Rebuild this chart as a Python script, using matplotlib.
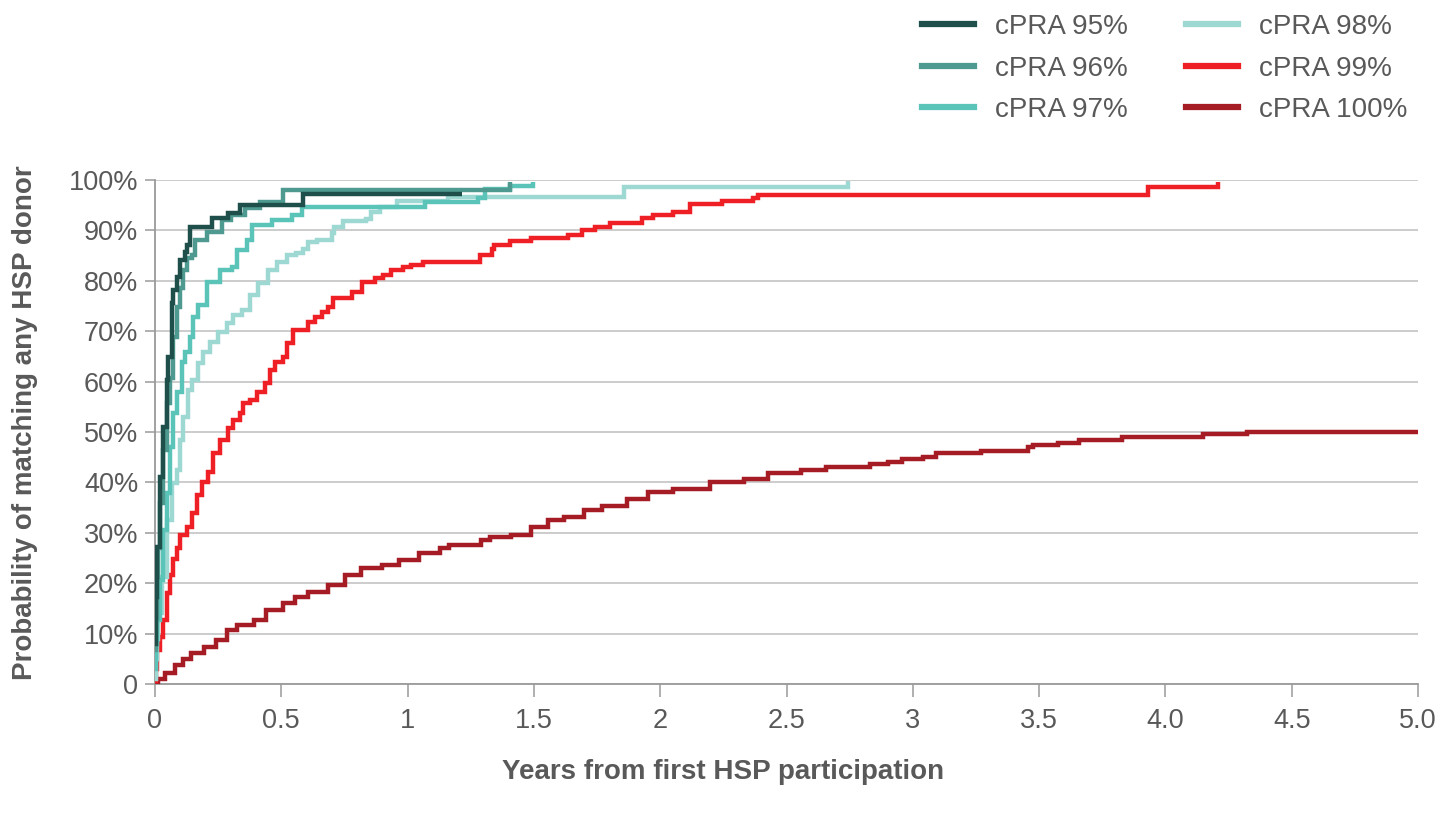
import matplotlib
matplotlib.use("Agg")
import matplotlib.pyplot as plt
from matplotlib.lines import Line2D
from matplotlib.ticker import FixedLocator

# ---------------- data (years, % matched) ----------------
labels = ["cPRA 95%", "cPRA 96%", "cPRA 97%", "cPRA 98%", "cPRA 99%", "cPRA 100%"]
colors = ["#1e4f4b", "#4f9a90", "#5bc4b9", "#9dd8d3", "#ee2026", "#a51c24"]

t95 = [0, 0.004, 0.008, 0.02, 0.033, 0.046, 0.053, 0.066, 0.072, 0.086, 0.099, 0.119,
       0.125, 0.139, 0.224, 0.29, 0.336, 0.587, 1.215]
v95 = [8, 17.3, 27.2, 41.1, 51, 60.3, 64.9, 75.5, 78.2, 80.8, 84.1, 85.8,
       87.1, 90.7, 92.4, 93.4, 95, 97.3, 97.3]

t96 = [0, 0.004, 0.007, 0.012, 0.02, 0.033, 0.046, 0.059, 0.072, 0.086, 0.099, 0.112,
       0.125, 0.145, 0.158, 0.205, 0.264, 0.30, 0.356, 0.416, 0.507, 1.405]
v96 = [6.7, 13, 21.3, 27, 35.9, 46.4, 55.7, 60.7, 68.9, 74.9, 78.5, 82.1,
       84.5, 85.1, 88.1, 89.7, 92.1, 93.0, 94.4, 95.7, 98, 99.6]

t97 = [0, 0.003, 0.007, 0.02, 0.033, 0.046, 0.059, 0.072, 0.086, 0.106, 0.119, 0.139,
       0.152, 0.171, 0.205, 0.257, 0.304, 0.323, 0.363, 0.383, 0.462, 0.541, 0.581,
       1.069, 1.28, 1.306, 1.405, 1.498]
v97 = [3, 8, 12.7, 20.6, 30.6, 37.8, 47.1, 53.7, 58, 63.9, 65.9, 68.9,
       72.9, 75.2, 79.8, 82.1, 82.8, 86.1, 88.1, 91.1, 92.1, 93.1, 94.7,
       95.6, 96.4, 98.2, 98.8, 99.7]

t98 = [0, 0.004, 0.008, 0.013, 0.026, 0.046, 0.066, 0.086, 0.099, 0.112, 0.132, 0.145,
       0.171, 0.191, 0.218, 0.251, 0.284, 0.31, 0.343, 0.376, 0.409, 0.449, 0.482,
       0.521, 0.557, 0.584, 0.605, 0.64, 0.702, 0.709, 0.744, 0.834, 0.855, 0.89,
       0.957, 1.161, 1.857, 2.745]
v98 = [1, 5, 9, 14, 21.3, 32.5, 39.8, 42.5, 48.4, 53, 58.3, 60.3,
       63.6, 65.9, 67.9, 69.9, 71.6, 73.2, 74.2, 77.2, 79.5, 82.1, 83.8,
       85.1, 85.6, 86.4, 87.6, 88.1, 89.4, 90.7, 91.9, 92.2, 93.7, 94.6,
       95.8, 96.7, 98.7, 99.8]

t99 = [0, 0.004, 0.007, 0.02, 0.033, 0.046, 0.059, 0.072, 0.086, 0.099, 0.125, 0.145,
       0.165, 0.185, 0.211, 0.231, 0.257, 0.29, 0.31, 0.336, 0.35, 0.376, 0.403,
       0.435, 0.455, 0.475, 0.508, 0.521, 0.548, 0.607, 0.633, 0.66, 0.686, 0.706,
       0.779, 0.818, 0.869, 0.904, 0.935, 0.98, 1.015, 1.06, 1.287, 1.334, 1.341,
       1.405, 1.49, 1.635, 1.689, 1.742, 1.80, 1.927, 1.973, 2.05, 2.118, 2.246,
       2.367, 2.388, 3.932, 4.208]
v99 = [0.5, 3, 6.7, 9.4, 12.7, 18, 21.6, 24.9, 27, 29.6, 31.2, 33.9,
       37.5, 40.1, 42.1, 45.8, 48.4, 50.7, 52.4, 53.7, 55.7, 56.3, 58,
       59.7, 62.3, 63.9, 64.9, 67.6, 70.2, 71.9, 72.9, 73.9, 74.9, 76.5,
       77.8, 79.8, 80.5, 81.2, 82.1, 82.7, 83.1, 83.8, 85.1, 86.4, 87.1,
       87.8, 88.4, 89.1, 90.1, 90.7, 91.4, 92.4, 93.1, 93.6, 95.3, 95.9,
       96.4, 97.0, 98.6, 99.6]

t100 = [0, 0.01, 0.038, 0.079, 0.11, 0.144, 0.194, 0.243, 0.284, 0.325, 0.39, 0.44,
        0.505, 0.555, 0.604, 0.686, 0.752, 0.817, 0.9, 0.965, 1.047, 1.129, 1.162,
        1.29, 1.326, 1.41, 1.49, 1.556, 1.62, 1.70, 1.77, 1.87, 1.95, 2.05, 2.196,
        2.33, 2.425, 2.557, 2.657, 2.83, 2.9, 2.957, 3.04, 3.09, 3.27, 3.457, 3.474,
        3.574, 3.657, 3.83, 4.149, 4.324, 5.0]
v100 = [0.3, 1, 2.1, 3.8, 5, 6.1, 7.4, 8.7, 10.7, 11.7, 12.7, 14.7,
        16, 17.3, 18.3, 19.6, 21.6, 23, 23.6, 24.6, 25.9, 26.9, 27.6,
        28.6, 29.2, 29.6, 31.2, 32.5, 33.1, 34.5, 35.3, 36.8, 38, 38.6, 40.1,
        40.6, 41.8, 42.5, 43, 43.6, 44.1, 44.6, 45.1, 45.8, 46.3, 47.1, 47.4,
        47.9, 48.4, 49.1, 49.6, 50.0, 50.0]

x_ticks = [0, 0.5, 1, 1.5, 2, 2.5, 3, 3.5, 4, 4.5, 5]
x_tick_labels = ["0", "0.5", "1", "1.5", "2", "2.5", "3", "3.5", "4.0", "4.5", "5.0"]
y_ticks = [0, 10, 20, 30, 40, 50, 60, 70, 80, 90, 100]
y_tick_labels = ["0", "10%", "20%", "30%", "40%", "50%", "60%", "70%", "80%", "90%", "100%"]

series = [(t95, v95), (t96, v96), (t97, v97), (t98, v98), (t99, v99), (t100, v100)]

# ---------------- figure ----------------
plt.rcParams['font.family'] = ['Liberation Sans', 'DejaVu Sans']
txt = "#595959"
axc = "#9a9a9a"

fig = plt.figure(figsize=(14.56, 8.13), dpi=100)
ax = fig.add_axes([155 / 1456, 1 - 684 / 813, (1418 - 155) / 1456, (684 - 180) / 813])

ax.set_xlim(0, 5)
ax.set_ylim(0, 100)

ax.yaxis.set_major_locator(FixedLocator(y_ticks))
ax.grid(axis='y', color="#c8c8c8", linewidth=1.3)
ax.set_axisbelow(True)

draw_order = [5, 4, 3, 2, 1, 0]
for i in draw_order:
    t, v = series[i]
    ax.step(t, v, where='post', color=colors[i], linewidth=3.2,
            solid_joinstyle='miter', solid_capstyle='butt', zorder=3 + (5 - i) * 0.1)

for s in ['top', 'right']:
    ax.spines[s].set_visible(False)
for s in ['left', 'bottom']:
    ax.spines[s].set_color(axc)
    ax.spines[s].set_linewidth(1.3)

ax.set_xticks(x_ticks)
ax.set_xticklabels(x_tick_labels)
ax.set_yticks(y_ticks)
ax.set_yticklabels(y_tick_labels)
ax.tick_params(axis='x', direction='out', length=9, width=1.1, color=axc,
               labelsize=19.5, labelcolor=txt, pad=8)
ax.tick_params(axis='y', direction='out', length=7, width=1.1, color=axc,
               labelsize=19.5, labelcolor=txt, pad=5)

ax.set_xlabel("Years from first HSP participation", fontsize=20, fontweight='bold',
              color=txt)
ax.xaxis.set_label_coords(0.4497, -0.149)
ax.set_ylabel("Probability of matching any HSP donor", fontsize=20, fontweight='bold',
              color=txt)
ax.yaxis.set_label_coords(-0.0926, 0.519)

handles = [Line2D([0], [0], color=c, linewidth=4.5) for c in colors]
fig.legend(handles, labels, loc='upper left', bbox_to_anchor=(922 / 1456, 1 - 14 / 813),
           bbox_transform=fig.transFigure, ncol=2, frameon=False, fontsize=20,
           labelcolor=txt, handlelength=1.87, handletextpad=0.75, columnspacing=2.1,
           labelspacing=0.56, borderpad=0, borderaxespad=0)

fig.savefig("out.png", dpi=100)
